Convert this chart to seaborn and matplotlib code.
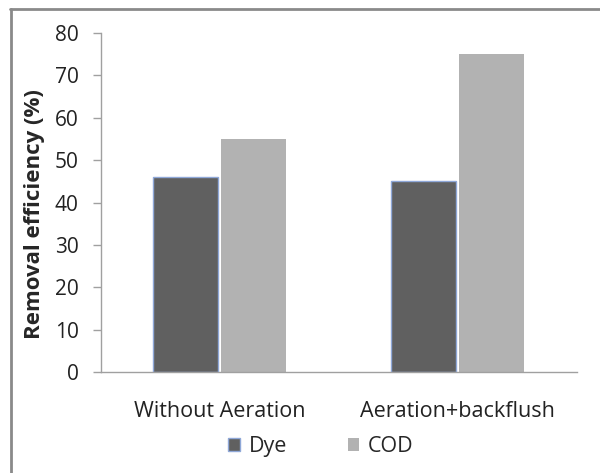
import matplotlib
matplotlib.use("Agg")
import matplotlib.pyplot as plt
import seaborn as sns
import pandas as pd
from matplotlib.lines import Line2D
from matplotlib.patches import Patch

categories = ["Without Aeration", "Aeration+backflush"]
series = ["Dye", "COD"]
dye_values = [46, 45]
cod_values = [55, 75]
y_ticks = [0, 10, 20, 30, 40, 50, 60, 70, 80]

df = pd.DataFrame({
    "Condition": categories * 2,
    "Parameter": ["Dye"] * len(categories) + ["COD"] * len(categories),
    "Value": dye_values + cod_values,
})

sns.set_style("white")
plt.rcParams["font.family"] = ["Open Sans", "DejaVu Sans"]

fig = plt.figure(figsize=(6.0, 4.73), dpi=100)
ax = fig.add_axes([0.168, 0.2135, 0.793, 0.7165])

colors = {"Dye": "#606060", "COD": "#b2b2b2"}
sns.barplot(data=df, x="Condition", y="Value", hue="Parameter", hue_order=series,
            palette=colors, width=0.57, gap=0.04, ax=ax, legend=False,
            edgecolor="none", saturation=1)

# bluish edge on Dye bars
for p in ax.patches[:len(categories)]:
    p.set_edgecolor("#8fa8d8")
    p.set_linewidth(1.0)

ax.set_ylim(0, 80)
ax.set_xlim(-0.5, 1.5)
ax.set_yticks(y_ticks)
ax.set_yticklabels([str(t) for t in y_ticks], fontsize=15, color="#222222")
ax.set_xticks([0, 1])
ax.set_xticklabels(categories, fontsize=15.5, color="#222222")
ax.set_xticks([-0.5, 0.5, 1.5], minor=True)
ax.tick_params(axis="x", which="major", length=0, pad=21)
ax.tick_params(axis="x", which="minor", length=6, color="#a0a0a0", width=1, direction="out")
ax.tick_params(axis="y", length=6, color="#a0a0a0", width=1, direction="out", pad=10, left=True)
ax.set_xlabel("")
ax.set_ylabel("Removal efficiency (%)", fontsize=16, fontweight="bold")
ax.yaxis.set_label_coords(-0.117, 0.465)

for s in ["top", "right"]:
    ax.spines[s].set_visible(False)
for s in ["left", "bottom"]:
    ax.spines[s].set_color("#a0a0a0")
    ax.spines[s].set_linewidth(1)

handles = [Patch(facecolor=colors["Dye"], edgecolor="#8fa8d8", label="Dye"),
           Patch(facecolor=colors["COD"], edgecolor="none", label="COD")]
fig.legend(handles=handles, loc="center", bbox_to_anchor=(0.535, 0.055), ncol=2,
           frameon=False, fontsize=15.5, handlelength=0.55, handleheight=0.55,
           columnspacing=2.8, handletextpad=0.4)

# outer chart frame (top and left visible)
fig.add_artist(Line2D([10/600, 1.0], [1 - 9/473, 1 - 9/473], transform=fig.transFigure,
                      color="#8a8a8a", linewidth=2))
fig.add_artist(Line2D([11/600, 11/600], [0, 1 - 9/473], transform=fig.transFigure,
                      color="#8a8a8a", linewidth=2))

fig.savefig("out.png", dpi=100)
